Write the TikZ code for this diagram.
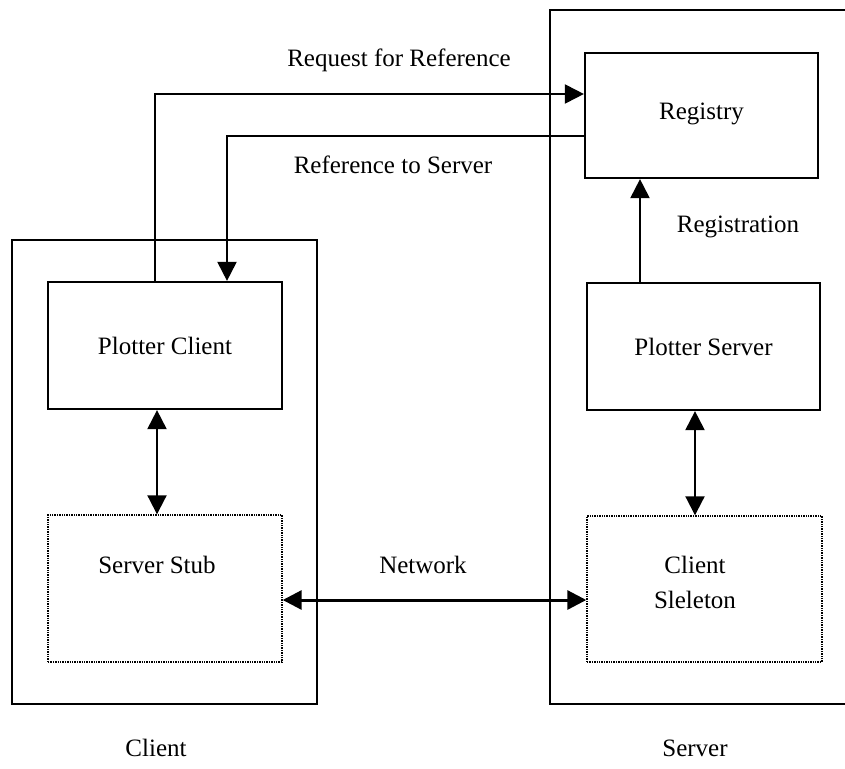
\documentclass[tikz,border=0pt]{standalone}
\usepackage{fontspec}
\setmainfont{Liberation Serif}
\usetikzlibrary{arrows.meta}
\begin{document}
\begin{tikzpicture}[x=1pt,y=-1pt,
  box/.style={draw, line width=2.2pt, inner sep=0pt, font=\fontsize{25}{30}\selectfont},
  dotbox/.style={draw, line width=1.4pt, densely dotted, inner sep=0pt},
  lbl/.style={font=\fontsize{25}{35}\selectfont, inner sep=0pt, align=center},
  conn/.style={line width=2pt, -{Triangle[length=19pt,width=19pt]}},
  dconn/.style={line width=2pt, {Triangle[length=19pt,width=19pt]}-{Triangle[length=19pt,width=19pt]}},
]
\useasboundingbox (0,0) rectangle (845,768);
\fill[white] (0,0) rectangle (845,768);

% outer boxes
\node[box, minimum width=305pt, minimum height=464pt] (clientbox) at (164.5,472) {};
\node[box, minimum width=300pt, minimum height=694pt] (serverbox) at (700,357) {};

% inner boxes
\node[box, minimum width=233pt, minimum height=125pt] (registry) at (701.5,115.5) {\raisebox{8pt}{Registry}};
\node[box, minimum width=234pt, minimum height=127pt] (pclient) at (165,345.5) {\raisebox{-7pt}{Plotter Client}};
\node[box, minimum width=233pt, minimum height=127pt] (pserver) at (703.5,346.5) {\raisebox{-7pt}{Plotter Server}};
\node[dotbox, minimum width=234pt, minimum height=147pt] (stub) at (165,588.5) {};
\node[dotbox, minimum width=235pt, minimum height=146pt] (skeleton) at (704.5,589) {};
\node[lbl] (stubtext) at (157,565) {Server Stub};
\node[lbl] (skeltext) at (695,582.5) {Client\\Sleleton};

% labels
\node[lbl] (reqlbl) at (399,60) {Request for Reference};
\node[lbl] (reflbl) at (393,165) {Reference to Server};
\node[lbl] (reglbl) at (738,227) {Registration};
\node[lbl] (netlbl) at (423,565) {Network};
\node[lbl] (clientlbl) at (156,748) {Client};
\node[lbl] (serverlbl) at (695,748) {Server};

% connector helper coordinates
\coordinate (reqc) at (155,94);
\coordinate (refc) at (227,136);
\coordinate (regc) at (640,0);
\coordinate (lc) at (157,0);
\coordinate (rc) at (695,0);
\coordinate (netc) at (0,600);

\draw[conn] (pclient.north -| reqc) |- (registry.west |- reqc);
\draw[conn] (registry.west |- refc) -| (pclient.north -| refc);
\draw[conn] (pserver.north -| regc) -- (registry.south -| regc);
\draw[dconn] (pclient.south -| lc) -- (stub.north -| lc);
\draw[dconn] (pserver.south -| rc) -- (skeleton.north -| rc);
\draw[dconn, line width=3pt] (stub.east |- netc) -- (skeleton.west |- netc);
\end{tikzpicture}
\end{document}
